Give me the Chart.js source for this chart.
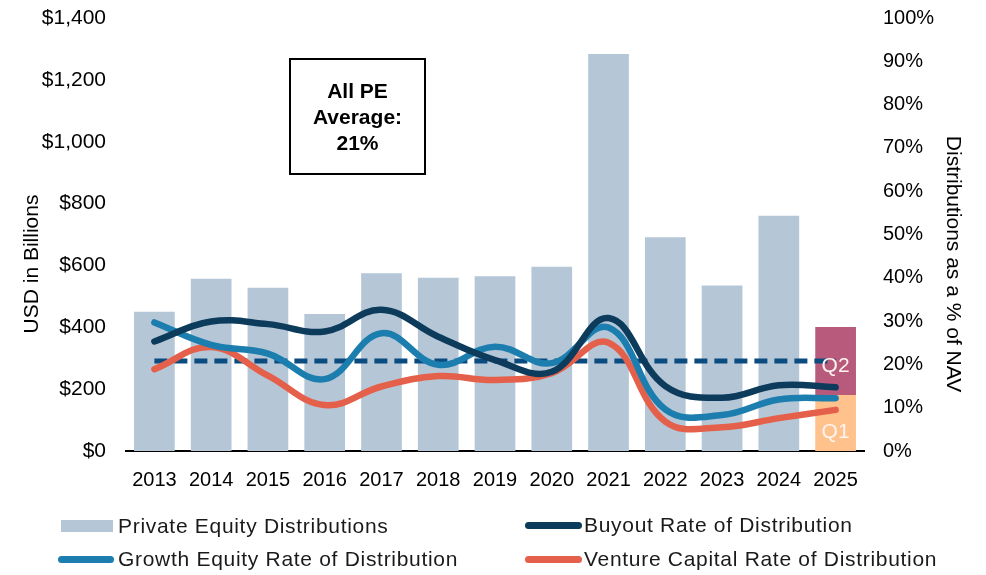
<!DOCTYPE html>
<html><head><meta charset="utf-8">
<script src="https://cdn.jsdelivr.net/npm/chart.js@4/dist/chart.umd.min.js"></script>
<style>
html,body{margin:0;padding:0;background:#fff;}
#wrap{position:relative;width:986px;height:575px;overflow:hidden;}
#c{position:absolute;left:0;top:0;}
#legend{position:absolute;left:0;top:0;width:986px;height:575px;pointer-events:none;font-family:"Liberation Sans",Arial,sans-serif;font-size:21px;color:#1a1a1a;}
.sw{position:absolute;}
.lbl{position:absolute;white-space:nowrap;letter-spacing:0.7px;line-height:24px;height:24px;}
</style>
</head><body>
<div id="wrap"><canvas id="c" width="986" height="575"></canvas><div id="legend"></div></div>
<script>
const years = ['2013','2014','2015','2016','2017','2018','2019','2020','2021','2022','2023','2024','2025'];
const peDistributions = [450, 557, 528, 443, 575, 560, 565, 596, 1284, 691, 535, 761, null];
const q1Distributions = [null,null,null,null,null,null,null,null,null,null,null,null,181];
const q2Distributions = [null,null,null,null,null,null,null,null,null,null,null,null,220];
const buyoutRate = [25.3, 29.9, 29.3, 27.6, 32.6, 26.4, 21.0, 18.3, 30.7, 15.0, 12.3, 15.2, 14.7];
const growthRate = [29.7, 24.5, 22.5, 16.6, 27.2, 19.9, 24.1, 20.3, 28.5, 9.6, 8.3, 11.9, 12.2];
const ventureRate = [18.9, 24.0, 17.4, 10.6, 14.9, 17.3, 16.4, 18.0, 25.0, 6.8, 5.5, 7.6, 9.5];
const peAverage = [20.8,20.8,20.8,20.8,20.8,20.8,20.8,20.8,20.8,20.8,20.8,20.8,20.8];
const leftTicks = ['$0','$200','$400','$600','$800','$1,000','$1,200','$1,400'];
const rightTicks = ['0%','10%','20%','30%','40%','50%','60%','70%','80%','90%','100%'];
const boxLines = ['All PE','Average:','21%'];
const quarterLabels = ['Q1','Q2'];
const leftTitle = 'USD in Billions';
const rightTitle = 'Distributions as a % of NAV';

const FONT = '"Liberation Sans", Arial, sans-serif';
const C = {bar:'#B5C7D7', buy:'#0D3B5C', grow:'#1C7EAE', vc:'#E5604B', avg:'#0A4B80', q1:'#FFC28D', q2:'#B85A7C'};

const extras = {
  id:'extras',
  afterDatasetsDraw(chart){
    const ctx = chart.ctx;
    [1,2].forEach((di,k)=>{
      const el = chart.getDatasetMeta(di).data[12];
      if(!el) return;
      ctx.save();
      ctx.fillStyle = '#FFF3EE';
      ctx.font = '21px ' + FONT;
      ctx.textAlign='center'; ctx.textBaseline='middle';
      const cy = k===0 ? el.base - (el.base-el.y)*0.33 : el.y + (el.base-el.y)*0.58;
      ctx.fillText(quarterLabels[k], el.x, cy);
      ctx.restore();
    });
    const a = chart.chartArea;
    ctx.save();
    ctx.strokeStyle='#000'; ctx.lineWidth=2;
    ctx.strokeRect(a.left+164, a.top+41, 135, 115);
    ctx.fillStyle='#000';
    ctx.font='bold 21px ' + FONT;
    ctx.textAlign='center'; ctx.textBaseline='middle';
    boxLines.forEach((t,i)=>ctx.fillText(t, a.left+231.5, a.top+74+i*26));
    ctx.restore();
    ctx.save();
    ctx.fillStyle='#000'; ctx.font='21px ' + FONT;
    ctx.textAlign='center'; ctx.textBaseline='middle';
    ctx.translate(32, 264); ctx.rotate(-Math.PI/2); ctx.fillText(leftTitle,0,0);
    ctx.restore();
    ctx.save();
    ctx.fillStyle='#000'; ctx.font='21px ' + FONT;
    ctx.textAlign='center'; ctx.textBaseline='middle';
    ctx.translate(953, 264); ctx.rotate(Math.PI/2); ctx.fillText(rightTitle,0,0);
    ctx.restore();
  }
};

const chart = new Chart(document.getElementById('c'), {
  data:{
    labels: years,
    datasets:[
      {type:'bar', label:'Private Equity Distributions', data:peDistributions, backgroundColor:C.bar, yAxisID:'y', order:10, barPercentage:0.717, categoryPercentage:1, stack:'s'},
      {type:'bar', label:'Q1', data:q1Distributions, backgroundColor:C.q1, yAxisID:'y', order:10, barPercentage:0.717, categoryPercentage:1, stack:'s'},
      {type:'bar', label:'Q2', data:q2Distributions, backgroundColor:C.q2, yAxisID:'y', order:10, barPercentage:0.717, categoryPercentage:1, stack:'s'},
      {type:'line', label:'All PE Average', data:peAverage, borderColor:C.avg, borderWidth:5, borderDash:[13,7], borderCapStyle:'butt', pointRadius:0, yAxisID:'y1', order:5, tension:0},
      {type:'line', label:'Venture Capital Rate of Distribution', data:ventureRate, borderColor:C.vc, borderWidth:6.5, pointRadius:0, yAxisID:'y1', order:3, tension:0.4, borderCapStyle:'round'},
      {type:'line', label:'Growth Equity Rate of Distribution', data:growthRate, borderColor:C.grow, borderWidth:6.5, pointRadius:0, yAxisID:'y1', order:2, tension:0.4, borderCapStyle:'round'},
      {type:'line', label:'Buyout Rate of Distribution', data:buyoutRate, borderColor:C.buy, borderWidth:6.5, pointRadius:0, yAxisID:'y1', order:1, tension:0.4, borderCapStyle:'round'}
    ]
  },
  options:{
    responsive:false, animation:false, devicePixelRatio:1,
    layout:{padding:{top:18,bottom:66,left:0,right:0}},
    plugins:{legend:{display:false}, tooltip:{enabled:false}},
    scales:{
      x:{stacked:true, grid:{display:false, drawTicks:false}, border:{display:true,color:'#000',width:2},
         ticks:{color:'#000', font:{family:FONT,size:20}, padding:17, maxRotation:0}},
      y:{position:'left', stacked:true, min:0, max:1400, grid:{display:false, drawTicks:false}, border:{display:false},
         ticks:{stepSize:200, color:'#000', font:{family:FONT,size:21}, padding:20, callback:(v,i)=>leftTicks[i]},
         afterFit:(s)=>{s.width=126; s.paddingTop=0; s.paddingBottom=0;}},
      y1:{position:'right', stacked:false, min:0, max:100, grid:{display:false, drawTicks:false}, border:{display:false},
         ticks:{stepSize:10, color:'#000', font:{family:FONT,size:20}, padding:19, callback:(v,i)=>rightTicks[i]},
         afterFit:(s)=>{s.width=122; s.paddingTop=0; s.paddingBottom=0;}}
    }
  },
  plugins:[extras]
});

const legendSpec = [
  {ds:0, swLeft:61, swW:52, textLeft:118, cy:525.5, kind:'box'},
  {ds:6, swLeft:525, swW:57, textLeft:584, cy:525, kind:'line'},
  {ds:5, swLeft:58, swW:56, textLeft:118, cy:559, kind:'line'},
  {ds:4, swLeft:525, swW:57, textLeft:584, cy:559, kind:'line'}
];
const lg = document.getElementById('legend');
legendSpec.forEach(s=>{
  const d = chart.data.datasets[s.ds];
  const sw = document.createElement('div'); sw.className='sw';
  if(s.kind==='box'){ sw.style.cssText='left:'+s.swLeft+'px;top:'+(s.cy-6)+'px;width:'+s.swW+'px;height:12px;background:'+d.backgroundColor; }
  else { sw.style.cssText='left:'+s.swLeft+'px;top:'+(s.cy-3.5)+'px;width:'+s.swW+'px;height:7px;border-radius:3.5px;background:'+d.borderColor; }
  const t = document.createElement('span'); t.className='lbl'; t.textContent=d.label;
  t.style.left=s.textLeft+'px'; t.style.top=(s.cy-12)+'px';
  lg.appendChild(sw); lg.appendChild(t);
});
</script>
</body></html>
